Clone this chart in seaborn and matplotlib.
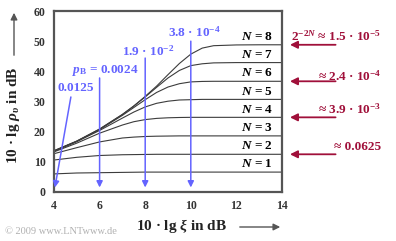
import numpy as np
import pandas as pd
import matplotlib
matplotlib.use("Agg")
import matplotlib.pyplot as plt
import seaborn as sns

# ---- data ----
xi_db = [4, 5, 6, 7, 7.5, 8, 8.5, 9, 9.5, 10, 10.5, 11, 12, 13, 14]
rho_N1 = [6.0, 6.3, 6.4, 6.5, 6.55, 6.6, 6.6, 6.6, 6.6, 6.6, 6.6, 6.6, 6.6, 6.6, 6.6]
rho_N2 = [10.6, 11.5, 12.1, 12.35, 12.4, 12.45, 12.5, 12.5, 12.5, 12.5, 12.5, 12.5, 12.5, 12.5, 12.5]
rho_N3 = [12.7, 14.7, 16.6, 17.9, 18.2, 18.4, 18.5, 18.55, 18.6, 18.6, 18.6, 18.6, 18.6, 18.6, 18.6]
rho_N4 = [13.3, 16.2, 19.5, 22.2, 23.3, 24.0, 24.4, 24.6, 24.7, 24.75, 24.75, 24.75, 24.75, 24.75, 24.75]
rho_N5 = [13.5, 16.7, 20.4, 24.5, 26.5, 28.2, 29.4, 30.1, 30.5, 30.6, 30.7, 30.7, 30.7, 30.7, 30.7]
rho_N6 = [13.6, 16.8, 20.7, 25.4, 28.0, 30.6, 33.0, 34.8, 35.9, 36.5, 36.65, 36.7, 36.7, 36.7, 36.7]
rho_N7 = [13.7, 16.9, 20.9, 25.7, 28.5, 31.5, 34.7, 37.8, 40.3, 41.9, 42.5, 42.8, 42.9, 42.9, 42.9]
rho_N8 = [13.6, 16.8, 20.8, 25.7, 28.5, 31.7, 35.1, 38.9, 42.6, 45.7, 47.7, 48.5, 48.75, 48.8, 48.8]
curves = [rho_N1, rho_N2, rho_N3, rho_N4, rho_N5, rho_N6, rho_N7, rho_N8]
N_values = [1, 2, 3, 4, 5, 6, 7, 8]
sat_levels = [6.6, 12.5, 18.6, 24.75, 30.7, 36.7, 42.9, 48.8]

# blue annotations: (text, arrow x, arrow start y, text x, text y)
blue_texts = ["0.0125", "$p_{\\mathrm{B}}$ = 0.0024", "1.9 · 10$^{-2}$", "3.8 · 10$^{-4}$"]
blue_arrow_x = [4, 6, 8, 10]
# red annotations
red_texts = ["2$^{-2N}$ ≈ 1.5 · 10$^{-5}$", "≈ 2.4 · 10$^{-4}$", "≈ 3.9 · 10$^{-3}$", "≈ 0.0625"]
red_N = [8, 6, 4, 2]

xticks = [4, 6, 8, 10, 12, 14]
yticks = [0, 10, 20, 30, 40, 50, 60]

rows = []
for n, c in zip(N_values, curves):
    for x, y in zip(xi_db, c):
        rows.append({"xi": x, "rho": y, "N": n})
df = pd.DataFrame(rows)

sns.set_theme(style="white")
plt.rcParams["font.family"] = ["Liberation Serif", "DejaVu Serif"]
plt.rcParams["font.weight"] = "bold"
plt.rcParams["mathtext.fontset"] = "custom"
plt.rcParams["mathtext.rm"] = "Liberation Serif:bold"
plt.rcParams["mathtext.it"] = "Liberation Serif:italic:bold"
plt.rcParams["mathtext.bf"] = "Liberation Serif:bold"

W, H = 396, 241
fig = plt.figure(figsize=(W / 100, H / 100), dpi=100)
ax = fig.add_axes([54 / W, 1 - 192 / H, (282 - 54) / W, (192 - 11) / H])

sns.lineplot(data=df, x="xi", y="rho", hue="N", palette={n: "#3c3c3c" for n in N_values},
             legend=False, ax=ax, linewidth=0.8, estimator=None, sort=True)

ax.set_xlim(4, 14)
ax.set_ylim(0, 60)
ax.set_xticks(xticks)
ax.set_yticks(yticks)
ax.set_xlabel("")
ax.set_ylabel("")
frame_col = "#555555"
for s in ax.spines.values():
    s.set_color(frame_col)
    s.set_linewidth(1.6)
ax.tick_params(axis="both", direction="out", length=4, width=1.3, color=frame_col,
               labelsize=8.5, labelcolor="#333333", pad=2)
for lab in ax.get_xticklabels() + ax.get_yticklabels():
    lab.set_fontweight("bold")

# N labels
for n, lev in zip(N_values, sat_levels):
    ax.text(13.6, lev + 0.6, f"$N$ = {n}", ha="right", va="bottom", fontsize=9.5,
            color="black")

# blue arrows & texts
blue = "#6464ff"
blue_start = [(4.74, 31.5), (6, 37.8), (8, 44.4), (10, 50.0)]
blue_text_pos = [(4.15, 34.5), (4.8, 40.2), (7.0, 46.5), (9.0, 53.0)]
for txt, ax_x, st, tp in zip(blue_texts, blue_arrow_x, blue_start, blue_text_pos):
    ax.annotate("", xy=(ax_x + (0.04 if ax_x == 4 else 0), 1.5), xytext=st,
                arrowprops=dict(arrowstyle="-|>", color=blue, lw=1.1, mutation_scale=9,
                                shrinkA=0, shrinkB=0), annotation_clip=False)
    ax.text(tp[0], tp[1], txt, ha="left", va="center", fontsize=9.5, color=blue)

# red arrows & texts
red = "#a0103a"
red_text_y = [51.7, 38.5, 27.5, 15.0]
for txt, n, ty in zip(red_texts, red_N, red_text_y):
    lev = sat_levels[n - 1]
    ax.annotate("", xy=(14.35, lev), xytext=(16.35, lev),
                arrowprops=dict(arrowstyle="-|>", color=red, lw=1.3, mutation_scale=11,
                                shrinkA=0, shrinkB=0), annotation_clip=False)
    ax.text(18.35, ty, txt, ha="right", va="center", fontsize=9.5, color=red, clip_on=False)

# axis labels with arrows
fig.text(182 / W, 1 - 226 / H, "10 · lg $\\xi$ in dB", ha="center", va="center",
         fontsize=11, color="#222222")
fig.text(14 / W, 1 - 115 / H, "10 · lg $\\rho_\\upsilon$ in dB", ha="center", va="center",
         rotation=90, fontsize=11, color="#222222")
arr_col = "#555555"
fig.patches.append(matplotlib.patches.FancyArrowPatch(
    (237 / W, 1 - 227 / H), (283 / W, 1 - 227 / H), transform=fig.transFigure,
    arrowstyle="-|>", mutation_scale=10, color=arr_col, lw=1.0))
fig.patches.append(matplotlib.patches.FancyArrowPatch(
    (14 / W, 1 - 58 / H), (14 / W, 1 - 10 / H), transform=fig.transFigure,
    arrowstyle="-|>", mutation_scale=10, color=arr_col, lw=1.0))

fig.text(5 / W, 1 - 231 / H, "© 2009 www.LNTwww.de", ha="left", va="center",
         fontsize=7.5, color="#b0b0b0", fontweight="normal")

fig.savefig("out.png", dpi=100)
